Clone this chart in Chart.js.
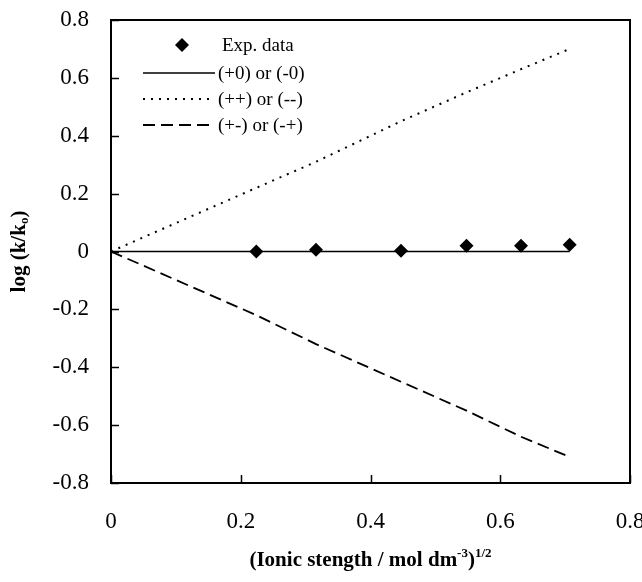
<!DOCTYPE html>
<html>
<head>
<meta charset="utf-8">
<script src="https://cdn.jsdelivr.net/npm/chart.js"></script>
<style>
  html, body { margin: 0; padding: 0; background: #fff; }
  #wrap { width: 642px; height: 582px; }
</style>
</head>
<body>
<div id="wrap"><canvas id="myChart" width="642" height="582"></canvas></div>
<script>
// Values
const lineX = [0, 0.224, 0.316, 0.447, 0.548, 0.632, 0.707];
const zeroY = [0, 0, 0, 0, 0, 0, 0];
const sameSignY = [0, 0.22, 0.31, 0.45, 0.55, 0.63, 0.70];
const oppSignY = [0, -0.22, -0.32, -0.45, -0.55, -0.64, -0.71];

const expX = [0.224, 0.316, 0.447, 0.548, 0.632, 0.707];
const expY = [0.000, 0.006, 0.003, 0.020, 0.020, 0.023];

const xTicks = [0, 0.2, 0.4, 0.6, 0.8];
const yTicks = [-0.8, -0.6, -0.4, -0.2, 0, 0.2, 0.4, 0.6, 0.8];

const serif = "'Liberation Serif', 'Times New Roman', serif";

const toPoints = (xs, ys) => xs.map((x, i) => ({ x: x, y: ys[i] }));

// Inward tick marks + full frame around the plot
const framePlugin = {
  id: 'frame',
  afterDraw(chart) {
    const { ctx, chartArea: a, scales } = chart;
    ctx.save();
    ctx.strokeStyle = '#000';
    ctx.lineWidth = 1.5;
    ctx.beginPath();
    xTicks.forEach(v => {
      const px = Math.round(scales.x.getPixelForValue(v)) + 0.5;
      ctx.moveTo(px, a.bottom);
      ctx.lineTo(px, a.bottom - 8);
    });
    yTicks.forEach(v => {
      const py = Math.round(scales.y.getPixelForValue(v)) + 0.5;
      ctx.moveTo(a.left, py);
      ctx.lineTo(a.left + 8, py);
    });
    ctx.stroke();
    ctx.lineWidth = 2;
    ctx.strokeRect(a.left, a.top, a.right - a.left, a.bottom - a.top);
    ctx.restore();
  }
};

// Axis titles with sub/superscripts
const titlePlugin = {
  id: 'axisTitles',
  afterDraw(chart) {
    const { ctx, chartArea: a } = chart;
    const big = 'bold 21px ' + serif;
    const small = 'bold 13px ' + serif;

    const drawParts = (parts, cx, cy) => {
      let w = 0;
      parts.forEach(p => { ctx.font = p.small ? small : big; w += ctx.measureText(p.t).width; });
      let x = cx - w / 2;
      parts.forEach(p => {
        ctx.font = p.small ? small : big;
        ctx.fillText(p.t, x, cy + (p.dy || 0));
        x += ctx.measureText(p.t).width;
      });
    };

    ctx.save();
    ctx.fillStyle = '#000';
    ctx.textBaseline = 'alphabetic';

    // x title
    drawParts([
      { t: '(Ionic stength / mol dm' },
      { t: '-3', small: true, dy: -9 },
      { t: ')' },
      { t: '1/2', small: true, dy: -9 }
    ], (a.left + a.right) / 2, 566);

    // y title
    ctx.translate(25, (a.top + a.bottom) / 2);
    ctx.rotate(-Math.PI / 2);
    drawParts([
      { t: 'log (k/k' },
      { t: 'o', small: true, dy: 3 },
      { t: ')' }
    ], 0, 0);
    ctx.restore();
  }
};

// Legend drawn inside the plot, upper left
const legendPlugin = {
  id: 'insideLegend',
  afterDraw(chart) {
    const { ctx, chartArea: a } = chart;
    const rows = [25, 53, 79, 105];
    ctx.save();
    ctx.font = '19px ' + serif;
    ctx.textBaseline = 'middle';
    ctx.fillStyle = '#000';
    chart.data.datasets.forEach((ds, i) => {
      const y = a.top + rows[i];
      let tx = a.left + 107;
      if (ds.showLine === false) {
        const cx = a.left + 71, r = 7;
        ctx.beginPath();
        ctx.moveTo(cx - r, y);
        ctx.lineTo(cx, y - r);
        ctx.lineTo(cx + r, y);
        ctx.lineTo(cx, y + r);
        ctx.closePath();
        ctx.fill();
        tx = a.left + 111;
      } else {
        ctx.save();
        ctx.strokeStyle = '#000';
        ctx.lineWidth = ds.borderWidth;
        ctx.setLineDash(ds.borderDash || []);
        ctx.beginPath();
        ctx.moveTo(a.left + 32, y);
        ctx.lineTo(a.left + 104, y);
        ctx.stroke();
        ctx.restore();
      }
      ctx.fillText(ds.label, tx, y + 1);
    });
    ctx.restore();
  }
};

const ctx = document.getElementById('myChart').getContext('2d');
const myChart = new Chart(ctx, {
  type: 'scatter',
  data: {
    datasets: [
      {
        label: 'Exp. data',
        data: toPoints(expX, expY),
        showLine: false,
        pointStyle: 'rectRot',
        pointRadius: 7,
        backgroundColor: '#000',
        borderColor: '#000',
        borderWidth: 0,
        order: 0
      },
      {
        label: '(+0) or (-0)',
        data: toPoints(lineX, zeroY),
        showLine: true,
        borderColor: '#000',
        borderWidth: 1.5,
        pointRadius: 0,
        order: 1
      },
      {
        label: '(++) or (--)',
        data: toPoints(lineX, sameSignY),
        showLine: true,
        borderColor: '#000',
        borderWidth: 2,
        borderDash: [2, 6],
        pointRadius: 0,
        order: 1
      },
      {
        label: '(+-) or (-+)',
        data: toPoints(lineX, oppSignY),
        showLine: true,
        borderColor: '#000',
        borderWidth: 1.8,
        borderDash: [12, 6],
        pointRadius: 0,
        order: 1
      }
    ]
  },
  options: {
    responsive: false,
    animation: false,
    layout: { padding: { top: 20, right: 12, left: 0, bottom: 0 } },
    plugins: {
      legend: { display: false },
      tooltip: { enabled: false }
    },
    scales: {
      x: {
        type: 'linear',
        min: 0,
        max: 0.8,
        border: { display: false },
        grid: { display: false, drawTicks: false },
        ticks: {
          stepSize: 0.2,
          padding: 25,
          color: '#000',
          font: { family: serif, size: 23 },
          callback: v => Number(v.toFixed(1)).toString()
        },
        afterFit: scale => {
          scale.height = 99;
          scale.paddingLeft = 0;
          scale.paddingRight = 0;
        }
      },
      y: {
        type: 'linear',
        min: -0.8,
        max: 0.8,
        border: { display: false },
        grid: { display: false, drawTicks: false },
        ticks: {
          stepSize: 0.2,
          padding: 22,
          color: '#000',
          font: { family: serif, size: 23 },
          callback: v => Number(v.toFixed(1)).toString()
        },
        afterFit: scale => {
          scale.width = 111;
          scale.paddingTop = 0;
          scale.paddingBottom = 0;
        }
      }
    }
  },
  plugins: [framePlugin, titlePlugin, legendPlugin]
});
</script>
</body>
</html>
